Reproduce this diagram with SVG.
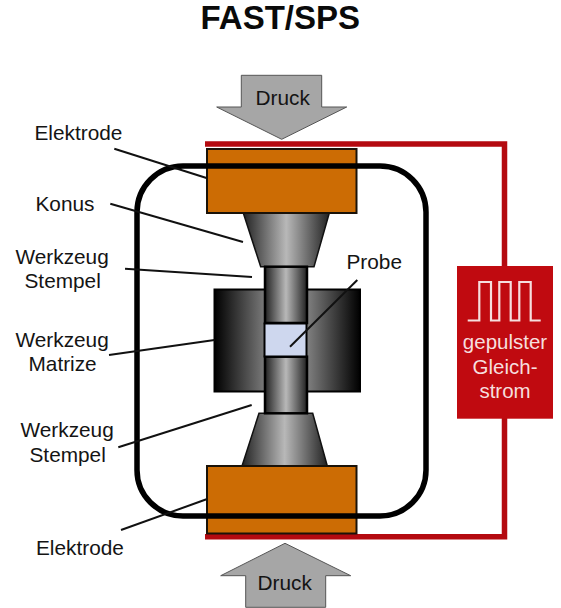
<svg xmlns="http://www.w3.org/2000/svg" width="561" height="608" viewBox="0 0 561 608">
<style>
text{font-family:"Liberation Sans",Arial,sans-serif;font-size:20.8px;fill:#141414}
.title{font-size:33px;font-weight:bold;fill:#0a0a0a}
.arrow{fill:#a6a6a6;stroke:#555;stroke-width:1}
.el{fill:#cc6c04;stroke:#1a1208;stroke-width:2}
.st{stroke:#000;stroke-width:2.5}
.lead{fill:none;stroke:#111;stroke-width:2}
.wire{fill:none;stroke:#b40a10;stroke-width:5.5}
.ps{fill:#f6dede;text-anchor:middle;font-size:20.500px}
</style>
<defs>
<linearGradient id="g"><stop offset="0" stop-color="#222"/><stop offset=".5" stop-color="#b8b8b8"/><stop offset="1" stop-color="#222"/></linearGradient>
<linearGradient id="m"><stop offset="0" stop-color="#000"/><stop offset=".5" stop-color="#b0b0b0"/><stop offset="1" stop-color="#000"/></linearGradient>
</defs>
<rect width="561" height="608" fill="#fff"/>
<text class="title" x="200.500" y="29">FAST/SPS</text>
<g id="connectors-wire"><path class="wire" d="M205 144H504.500V266M205 536.800H504.500V418"/></g>
<g id="druck-oben"><path class="arrow" d="M241.300 75.300H321.700V107H346.700L281.700 139.300L216.700 107H241.300Z"/><text x="255.500" y="105">Druck</text></g>
<g id="druck-unten"><path class="arrow" d="M245.700 607.300H325.700V575.700H350.700L285 543.300L220.700 575.700H245.700Z"/><text x="257.500" y="590">Druck</text></g>
<g id="matrize"><rect x="214.500" y="289.500" width="145.500" height="102" fill="url(#m)" stroke="#000" stroke-width="2"/></g>
<g id="konus-oben"><path d="M243.300 213L260.700 266.700H314L329.300 213Z" fill="url(#g)" stroke="#111" stroke-width="1.500"/></g>
<g id="konus-unten"><path d="M259 413.300L242 466H327.300L312.700 413.300Z" fill="url(#g)" stroke="#111" stroke-width="1.500"/></g>
<g id="stempel-oben"><rect class="st" x="265" y="266.700" width="42" height="56.300" fill="url(#g)"/></g>
<g id="stempel-unten"><rect class="st" x="265" y="356.700" width="42" height="56.600" fill="url(#g)"/></g>
<g id="probe"><rect x="264.500" y="323.500" width="42" height="33" fill="#ced7ee" stroke="#000" stroke-width="2"/><text x="346.500" y="269">Probe</text></g>
<g id="elektrode-oben"><rect class="el" x="207" y="149" width="149.500" height="64"/></g>
<g id="elektrode-unten"><rect class="el" x="207" y="466" width="149.500" height="67.500"/></g>
<g id="ofenraum"><rect x="137" y="166" width="289" height="350" rx="46" fill="none" stroke="#000" stroke-width="5.500"/></g>
<g id="connectors">
<path class="lead" d="M114.300 148.700L206.500 178"/>
<path class="lead" d="M110.300 203.700L243 242"/>
<path class="lead" d="M125 268.700L252 277"/>
<path class="lead" d="M109 355L214.500 340"/>
<path class="lead" d="M118.300 447.300L251.700 405"/>
<path class="lead" d="M121 530L206.500 499.300"/>
<path class="lead" d="M357.300 280L290 346.700"/>
</g>
<g id="label-elektrode-oben"><text x="34.500" y="140">Elektrode</text></g>
<g id="label-konus"><text x="35.500" y="210.700">Konus</text></g>
<g id="label-stempel-oben"><text x="15.500" y="264">Werkzeug</text><text x="24.500" y="288">Stempel</text></g>
<g id="label-matrize"><text x="15.500" y="346.700">Werkzeug</text><text x="28.500" y="370.700">Matrize</text></g>
<g id="label-stempel-unten"><text x="20.500" y="437">Werkzeug</text><text x="29.500" y="461.700">Stempel</text></g>
<g id="label-elektrode-unten"><text x="36" y="555">Elektrode</text></g>
<g id="stromquelle">
<rect x="457" y="266" width="96" height="152.700" fill="#c00a10"/>
<path d="M467.700 320.500H479.300V282H491V320.500H499.300V282H510.700V320.500H519.300V282H530.700V320.500H540.700" fill="none" stroke="#f6dede" stroke-width="2.200"/>
<text class="ps" x="505" y="349">gepulster</text>
<text class="ps" x="505" y="373.500">Gleich-</text>
<text class="ps" x="505" y="398">strom</text>
</g>
</svg>
